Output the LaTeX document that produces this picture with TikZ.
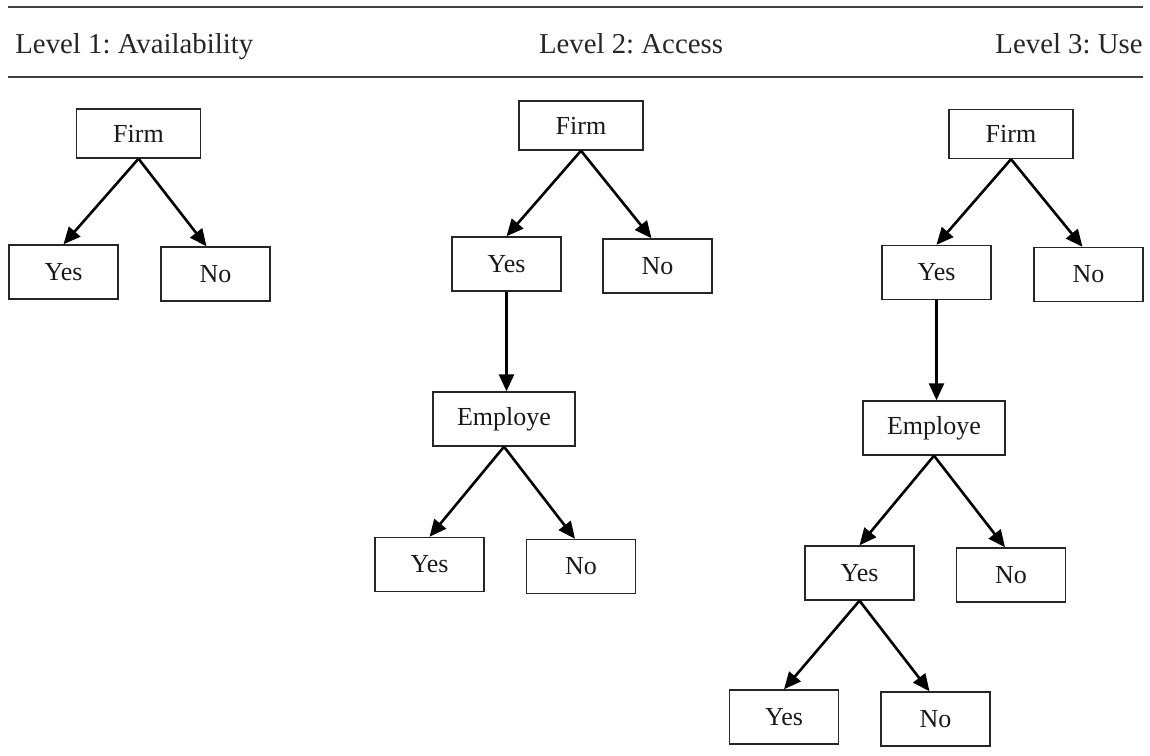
\documentclass[tikz,border=0pt]{standalone}
\usepackage{fontspec}
\setmainfont{Liberation Serif}
\usetikzlibrary{arrows.meta}
\frenchspacing
\begin{document}
\begin{tikzpicture}[x=0.5pt,y=-0.5pt,
  box/.style={draw=black!85, line width=0.7pt, rectangle, inner sep=0pt,
    minimum width=54.5pt, minimum height=27pt, font=\fontsize{13}{15}\selectfont, text=black!90},
  firmbox/.style={box, minimum width=62pt, minimum height=24.5pt},
  empbox/.style={box, minimum width=71pt, minimum height=27pt},
  arr/.style={line width=1.3pt, -{Triangle[length=8.5pt,width=7.5pt]}},
  rule/.style={line width=0.8pt, draw=black!75},
  head/.style={font=\fontsize{14.4}{16}\selectfont, text=black!85, inner sep=0pt}
]
\useasboundingbox (0,0) rectangle (1150,755);
% header rules
\coordinate (r1a) at (8,7); \coordinate (r1b) at (1143,7);
\coordinate (r2a) at (8,77); \coordinate (r2b) at (1143,77);
\draw[rule] (r1a) -- (r1b);
\draw[rule] (r2a) -- (r2b);
\node[head, anchor=base west] (h1) at (15,53) {Level 1: Availability};
\node[head, anchor=base] (h2) at (631,53) {Level 2: Access};
\node[head, anchor=base east] (h3) at (1143,53) {Level 3: Use};

% Level 1
\node[firmbox] (f1) at (138.5,133.5) {Firm};
\node[box] (y1) at (63.5,272) {Yes};
\node[box] (n1) at (215.5,274) {No};
\draw[arr] (f1.south) -- (y1.north);
\draw[arr] (f1.south) -- ([xshift=-4.5pt]n1.north);

% Level 2
\node[firmbox] (f2) at (581,125.5) {Firm};
\node[box] (y2) at (506.5,264) {Yes};
\node[box] (n2) at (657.5,266) {No};
\node[empbox] (e2) at (504,419) {Employe};
\node[box] (y2b) at (429.5,564.5) {Yes};
\node[box] (n2b) at (581,566.5) {No};
\draw[arr] (f2.south) -- (y2.north);
\draw[arr] (f2.south) -- ([xshift=-3pt]n2.north);
\draw[arr] (y2.south) -- (y2.south |- e2.north);
\draw[arr] (e2.south) -- (y2b.north);
\draw[arr] (e2.south) -- ([xshift=-3pt]n2b.north);

% Level 3
\node[firmbox] (f3) at (1011,134) {Firm};
\node[box] (y3) at (936.5,272.5) {Yes};
\node[box] (n3) at (1088.5,274.5) {No};
\node[empbox] (e3) at (934,428) {Employe};
\node[box] (y3b) at (859.5,573) {Yes};
\node[box] (n3b) at (1011,575) {No};
\node[box] (y3c) at (784,717) {Yes};
\node[box] (n3c) at (935.5,719) {No};
\draw[arr] (f3.south) -- (y3.north);
\draw[arr] (f3.south) -- ([xshift=-3pt]n3.north);
\draw[arr] (y3.south) -- (y3.south |- e3.north);
\draw[arr] (e3.south) -- (y3b.north);
\draw[arr] (e3.south) -- ([xshift=-3pt]n3b.north);
\draw[arr] (y3b.south) -- (y3c.north);
\draw[arr] (y3b.south) -- ([xshift=-3pt]n3c.north);
\end{tikzpicture}
\end{document}
